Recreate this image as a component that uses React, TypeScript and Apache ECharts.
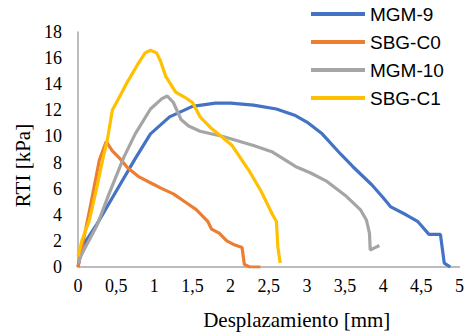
import React, { useEffect, useRef } from "react";
import * as echarts from "echarts";

const seriesNames = ["MGM-9", "SBG-C0", "MGM-10", "SBG-C1"];
const seriesColors = ["#4472C4", "#ED7D31", "#A5A5A5", "#FFC000"];

const mgm9: number[][] = [
  [0, 0], [0.05, 1.5], [0.25, 3.3], [0.5, 5.8], [0.75, 8.3], [0.95, 10.2], [1.2, 11.5],
  [1.5, 12.3], [1.8, 12.55], [2.0, 12.55], [2.3, 12.4], [2.6, 12.1], [2.85, 11.6],
  [3.0, 11.1], [3.2, 10.2], [3.45, 8.6], [3.6, 7.7], [3.85, 6.3], [4.0, 5.3], [4.1, 4.6],
  [4.3, 4.0], [4.45, 3.5], [4.6, 2.5], [4.75, 2.5], [4.8, 0.3], [4.88, 0],
];
const sbgC0: number[][] = [
  [0, 0], [0.08, 2.3], [0.16, 4.6], [0.28, 8.2], [0.37, 9.6], [0.45, 8.9], [0.55, 8.3],
  [0.65, 7.6], [0.8, 6.9], [1.0, 6.3], [1.1, 6.0], [1.25, 5.6], [1.4, 5.0], [1.55, 4.4],
  [1.7, 3.5], [1.75, 2.9], [1.85, 2.6], [1.95, 2.0], [2.05, 1.7], [2.15, 1.5], [2.18, 0.2],
  [2.25, 0], [2.39, 0],
];
const mgm10: number[][] = [
  [0, 0.3], [0.05, 1.0], [0.25, 3.2], [0.4, 5.5], [0.6, 8.4], [0.75, 10.2], [0.95, 12.1],
  [1.1, 12.9], [1.17, 13.1], [1.25, 12.6], [1.35, 11.3], [1.45, 10.8], [1.6, 10.4],
  [1.9, 10.0], [2.1, 9.65], [2.3, 9.3], [2.55, 8.8], [2.85, 7.7], [3.05, 7.2], [3.25, 6.6],
  [3.5, 5.5], [3.7, 4.4], [3.78, 3.6], [3.82, 2.6], [3.83, 1.3], [3.9, 1.5], [3.95, 1.65],
];
const sbgC1: number[][] = [
  [0, 0.8], [0.05, 2.0], [0.15, 3.6], [0.25, 6.2], [0.33, 8.4], [0.38, 9.6], [0.45, 12.0],
  [0.55, 13.1], [0.65, 14.2], [0.77, 15.4], [0.88, 16.4], [0.95, 16.6], [1.03, 16.4],
  [1.08, 15.8], [1.15, 14.6], [1.28, 13.4], [1.4, 13.0], [1.5, 12.6], [1.6, 11.5],
  [1.75, 10.6], [1.9, 9.9], [2.02, 9.3], [2.1, 8.6], [2.25, 7.3], [2.4, 5.8], [2.55, 4.0],
  [2.6, 3.5], [2.62, 1.5], [2.65, 0.3],
];
const seriesData = [mgm9, sbgC0, mgm10, sbgC1];

const xTitle = "Desplazamiento [mm]";
const yTitle = "RTI [kPa]";

export default function App() {
  const ref = useRef<HTMLDivElement>(null);
  useEffect(() => {
    if (!ref.current) return;
    const chart = echarts.init(ref.current, undefined, { renderer: "svg" });
    const serif = "'Liberation Serif', 'Times New Roman', serif";
    chart.setOption({
      animation: false,
      backgroundColor: "#ffffff",
      grid: { left: 78, right: 4, top: 32, bottom: 63 },
      legend: {
        orient: "vertical",
        left: 311,
        top: 4,
        padding: 0,
        itemWidth: 54,
        itemHeight: 4,
        itemGap: 8,
        icon: "rect",
        textStyle: {
          fontFamily: "'Liberation Sans', Arial, sans-serif",
          fontSize: 19,
          lineHeight: 20,
          color: "#000",
        },
        data: seriesNames,
      },
      xAxis: {
        type: "value",
        min: 0,
        max: 5,
        interval: 0.5,
        splitLine: { show: false },
        axisTick: { show: false },
        axisLine: { show: true, lineStyle: { color: "#A6A6A6", width: 1.5 } },
        axisLabel: {
          color: "#000",
          fontFamily: serif,
          fontSize: 18,
          margin: 10,
          formatter: (v: number) => String(v).replace(".", ","),
        },
        name: xTitle,
        nameLocation: "middle",
        nameGap: 42,
        nameTextStyle: { color: "#000", fontFamily: serif, fontSize: 21, padding: [0, 0, 0, 56] },
      },
      yAxis: {
        type: "value",
        min: 0,
        max: 18,
        interval: 2,
        splitLine: { show: false },
        axisTick: { show: false },
        axisLine: { show: true, lineStyle: { color: "#A6A6A6", width: 1.5 } },
        axisLabel: { color: "#000", fontFamily: serif, fontSize: 18, margin: 16 },
        name: yTitle,
        nameLocation: "middle",
        nameGap: 44,
        nameTextStyle: { color: "#000", fontFamily: serif, fontSize: 21, padding: [0, 32, 0, 0] },
      },
      series: seriesNames.map((n, i) => ({
        name: n,
        type: "line",
        data: seriesData[i],
        showSymbol: false,
        symbol: "none",
        smooth: false,
        lineStyle: { color: seriesColors[i], width: 3.2 },
        itemStyle: { color: seriesColors[i] },
      })),
    });
    return () => chart.dispose();
  }, []);
  return <div ref={ref} style={{ width: 467, height: 335, position: "absolute", left: 0, top: 0 }} />;
}
